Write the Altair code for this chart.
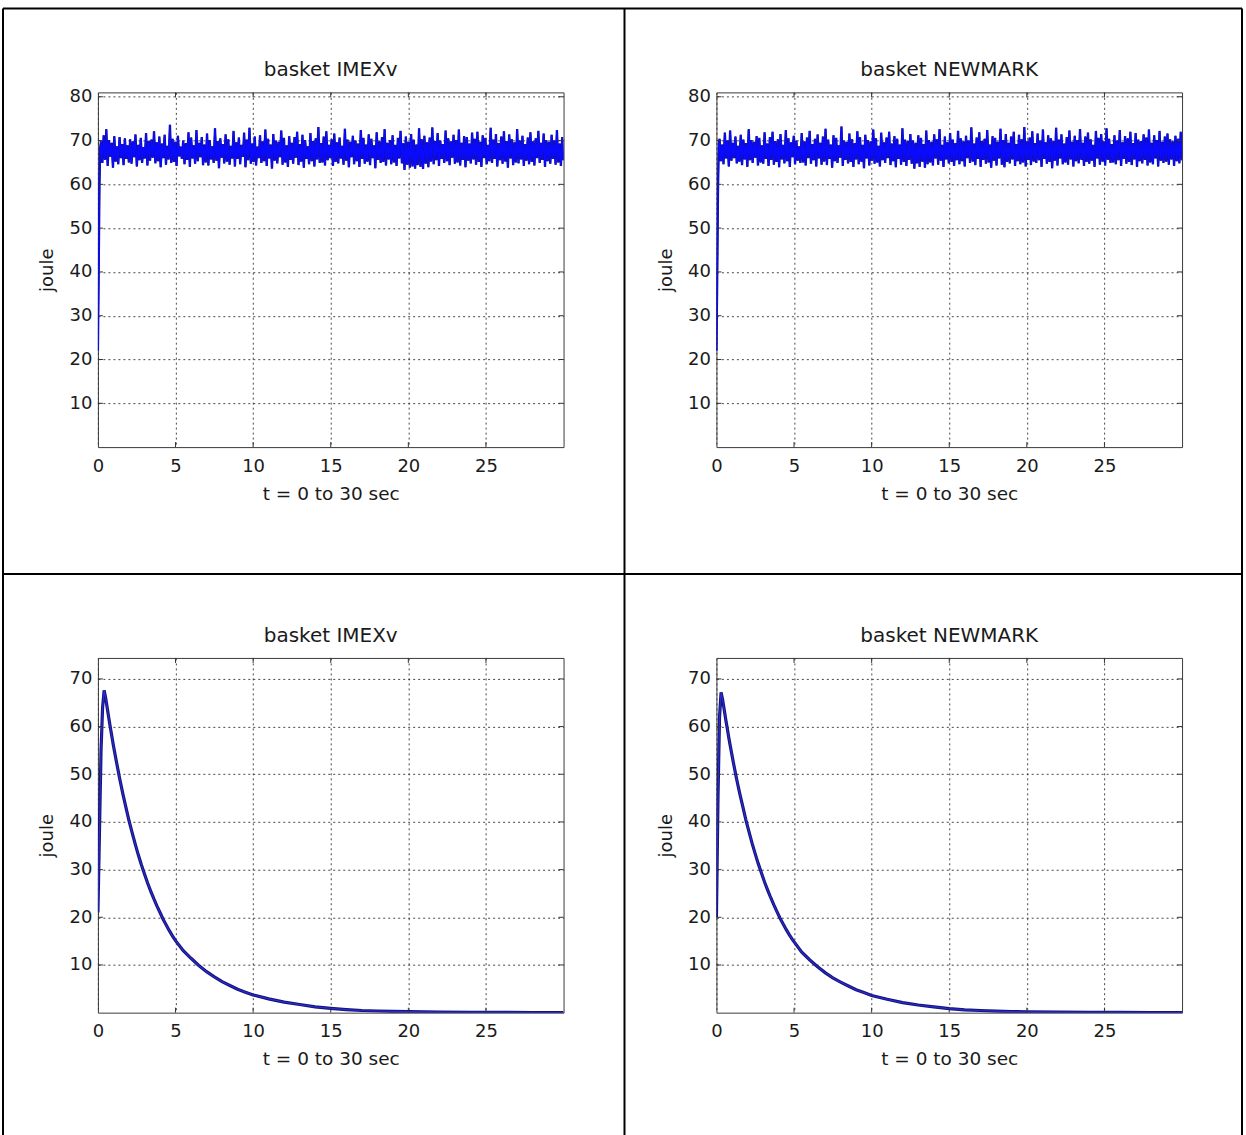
import altair as alt
import numpy as np
import pandas as pd

# ---------------- text ----------------
TITLES = ["basket IMEXv", "basket NEWMARK", "basket IMEXv", "basket NEWMARK"]
X_LABEL = "t = 0 to 30 sec"
Y_LABEL = "joule"
X_TICKS = [0, 5, 10, 15, 20, 25]
Y_TICKS_TOP = [10, 20, 30, 40, 50, 60, 70, 80]
Y_TICKS_BOTTOM = [10, 20, 30, 40, 50, 60, 70]

# ---------------- top-left (IMEXv) ----------------
TL_START_T = [0.0, 0.05, 0.1, 0.15]
TL_START_V = [22.0, 40.0, 60.0, 68.5]
TL_NOISE = [
    69.8, 64.9, 71.2, 65.6, 72.6, 64.2, 70.1, 66.3, 69.5, 63.8, 71.0, 65.2, 68.7, 64.6, 70.8, 66.0, 69.2, 64.4, 70.5, 65.8,
    68.9, 65.0, 70.3, 64.7, 69.8, 66.2, 71.4, 64.1, 69.0, 65.5, 70.6, 64.9, 68.5, 65.9, 71.7, 64.3, 69.9, 65.4, 70.2, 66.1,
    72.1, 64.8, 69.6, 65.3, 70.9, 63.9, 69.3, 66.0, 71.3, 64.5, 68.8, 65.7, 73.6, 64.9, 70.4, 65.1, 69.7, 64.2, 71.1, 66.4,
    68.6, 65.8, 70.0, 64.6, 69.4, 65.6, 71.9, 64.0, 70.7, 65.9, 68.9, 64.7, 72.4, 65.3, 69.5, 66.2, 70.8, 64.4, 69.1, 65.0,
    71.6, 64.3, 70.1, 65.7, 68.7, 64.9, 72.8, 65.4, 69.9, 63.7, 70.5, 66.1, 69.2, 64.8, 71.4, 65.2, 70.3, 64.5, 68.8, 65.9,
    72.2, 64.1, 69.6, 65.8, 70.7, 64.6, 69.0, 66.3, 71.8, 63.9, 70.2, 65.5, 72.9, 64.7, 69.3, 65.1, 70.9, 64.3, 68.6, 66.0,
    71.2, 64.9, 69.8, 65.3, 72.5, 64.2, 70.4, 65.9, 69.1, 63.6, 71.5, 65.4, 70.0, 64.8, 69.7, 66.2, 72.3, 64.5, 70.6, 65.0,
    68.9, 64.0, 71.0, 65.6, 69.5, 64.7, 70.8, 66.1, 72.0, 64.4, 69.2, 65.2, 71.3, 63.8, 70.1, 65.8, 68.7, 64.6, 71.7, 65.3,
    69.9, 64.1, 70.5, 65.7, 73.1, 64.9, 69.4, 65.0, 70.9, 64.3, 72.1, 65.5, 69.0, 66.0, 70.3, 64.2, 71.6, 65.1, 69.6, 64.8,
    70.7, 65.9, 68.8, 64.5, 72.7, 65.4, 70.2, 63.9, 69.7, 66.2, 71.1, 64.6, 70.0, 65.3, 69.3, 64.0, 72.4, 65.8, 70.6, 64.7,
    69.1, 65.2, 71.4, 64.4, 70.4, 66.0, 68.9, 63.7, 71.9, 65.6, 69.8, 64.9, 70.8, 65.1, 72.6, 64.3, 69.5, 65.7, 70.1, 64.6,
    71.2, 65.0, 69.0, 64.2, 70.6, 65.9, 72.2, 64.8, 69.4, 63.3, 70.9, 64.5, 69.7, 63.8, 71.5, 64.1, 70.2, 63.6, 69.1, 64.4,
    72.8, 64.0, 70.3, 63.5, 71.1, 64.7, 69.6, 63.9, 70.7, 65.2, 73.0, 64.6, 69.9, 65.5, 71.7, 64.2, 70.0, 65.8, 69.2, 64.9,
    72.3, 65.3, 70.5, 64.4, 69.8, 66.1, 71.3, 64.7, 70.1, 65.0, 72.5, 64.3, 69.5, 65.6, 71.0, 63.9, 70.8, 65.4, 69.3, 64.8,
    71.8, 65.7, 70.4, 64.5, 72.0, 65.1, 69.7, 64.0, 71.2, 66.0, 70.6, 64.6, 69.0, 65.3, 72.9, 64.9, 70.2, 65.8, 71.5, 64.1,
    69.4, 65.5, 70.9, 64.7, 72.1, 65.2, 69.9, 63.8, 71.4, 65.9, 70.3, 64.4, 69.6, 65.0, 72.6, 64.8, 70.0, 65.7, 71.1, 64.2,
    69.2, 65.4, 70.7, 64.6, 71.9, 65.1, 69.8, 64.3, 70.5, 66.0, 72.2, 64.9, 69.5, 65.6, 71.6, 64.0, 70.1, 65.3, 69.7, 64.7,
    71.3, 65.8, 70.0, 64.5, 72.4, 65.0, 69.3, 64.2, 70.8, 65.5,
]

# ---------------- top-right (NEWMARK) ----------------
TR_START_T = [0.0, 0.05, 0.1, 0.15]
TR_START_V = [22.0, 38.0, 58.0, 69.0]
TR_NOISE = [
    70.4, 65.3, 69.1, 64.6, 71.8, 65.9, 70.0, 64.1, 72.3, 65.4, 69.5, 66.0, 70.9, 64.8, 68.8, 65.2, 71.3, 64.4, 70.2, 65.7,
    69.4, 64.0, 72.6, 65.5, 70.1, 64.9, 69.7, 66.1, 71.0, 64.3, 70.6, 65.0, 68.9, 64.7, 71.9, 65.8, 69.3, 64.2, 70.8, 65.6,
    72.0, 64.5, 69.9, 65.1, 70.3, 63.9, 71.5, 65.7, 69.0, 64.8, 72.4, 65.3, 70.5, 64.0, 69.6, 66.2, 71.1, 64.6, 70.0, 65.4,
    68.7, 64.9, 71.7, 65.0, 69.8, 64.3, 70.7, 66.0, 72.2, 64.7, 69.2, 65.5, 70.4, 64.1, 71.4, 65.9, 69.5, 64.5, 70.9, 65.2,
    72.7, 64.4, 70.2, 65.8, 69.1, 63.8, 71.2, 65.3, 70.6, 64.9, 68.9, 66.1, 73.2, 64.2, 70.0, 65.6, 69.7, 64.8, 71.6, 65.1,
    70.3, 64.0, 69.4, 65.7, 72.1, 64.6, 70.8, 65.2, 69.0, 63.7, 71.3, 65.9, 70.1, 64.3, 69.8, 65.4, 72.5, 64.7, 70.5, 65.0,
    68.8, 64.1, 71.8, 65.5, 69.6, 64.9, 70.7, 66.0, 72.0, 64.4, 69.3, 65.3, 71.0, 63.9, 70.4, 65.8, 69.1, 64.5, 72.8, 65.1,
    70.2, 64.2, 69.9, 65.6, 71.5, 64.7, 70.0, 63.6, 69.5, 64.8, 71.2, 64.0, 70.6, 65.2, 69.2, 63.8, 72.3, 64.6, 70.1, 65.0,
    69.7, 64.3, 71.4, 65.9, 70.3, 64.5, 72.6, 65.4, 69.0, 64.0, 70.9, 65.7, 69.6, 64.8, 71.7, 65.1, 70.2, 64.2, 69.4, 65.5,
    72.2, 64.6, 70.5, 65.3, 69.8, 64.1, 71.1, 66.0, 70.0, 64.9, 73.0, 65.2, 69.3, 64.4, 70.7, 65.8, 71.9, 64.0, 69.9, 65.6,
    70.4, 64.7, 72.4, 65.0, 69.1, 63.8, 71.0, 65.4, 70.6, 64.3, 69.7, 65.9, 72.7, 64.5, 70.1, 63.9, 71.5, 65.1, 69.5, 64.8,
    70.9, 65.7, 72.0, 64.2, 69.2, 65.3, 71.3, 64.6, 70.3, 65.0, 73.1, 64.1, 69.8, 65.6, 70.7, 64.4, 72.1, 65.2, 69.4, 64.9,
    71.6, 65.5, 70.0, 64.0, 72.5, 65.8, 69.6, 64.7, 71.2, 65.1, 70.5, 63.7, 69.9, 65.4, 72.9, 64.3, 70.2, 65.9, 71.4, 64.6,
    69.3, 65.0, 70.8, 64.5, 72.3, 65.7, 69.7, 64.1, 71.1, 65.3, 70.1, 64.8, 72.6, 65.6, 69.5, 64.2, 70.9, 65.1, 71.8, 64.7,
    70.3, 65.4, 69.0, 64.0, 72.2, 65.9, 70.6, 64.5, 71.5, 65.2, 69.8, 64.3, 72.8, 65.6, 70.4, 64.9, 69.2, 65.0, 71.2, 64.6,
    70.0, 65.5, 72.4, 64.2, 69.6, 65.8, 71.0, 64.7, 70.5, 65.1, 72.0, 64.4, 69.4, 65.7, 71.7, 64.0, 70.2, 65.3, 69.9, 64.8,
    71.4, 65.6, 70.7, 64.3, 72.5, 65.0, 69.5, 64.6, 71.2, 65.9, 70.1, 64.1, 72.2, 65.4, 69.7, 64.9, 70.9, 65.2, 71.6, 64.5,
    70.3, 65.7, 69.8, 64.2, 71.1, 65.3, 70.4, 64.8, 72.0, 65.5,
]
NOISE_T0, NOISE_T1 = 0.2, 30.0

# ---------------- bottom-left (IMEXv) ----------------
BL_T = [0.0, 0.1, 0.2, 0.3, 0.4,
        0.5, 0.6, 0.7, 0.8, 0.9, 1.0, 1.2, 1.4, 1.6, 1.8, 2.0,
        2.2, 2.4, 2.6, 2.8, 3.0, 3.2, 3.4, 3.6, 3.8, 4.0, 4.2, 4.4, 4.6, 4.8, 5.0,
        5.5, 6.0, 6.5, 7.0, 7.5, 8.0, 8.5, 9.0, 9.5, 10.0, 11.0, 12.0, 13.0, 14.0, 15.0,
        16.0, 17.0, 18.0, 19.0, 20.0, 22.0, 24.0, 26.0, 28.0, 30.0]
BL_V = [21.0, 38.0, 55.0, 64.0, 67.6,
        66.0, 63.9, 61.8, 59.8, 57.9, 56.0, 52.5, 49.1, 46.0, 43.1, 40.3,
        37.8, 35.4, 33.1, 31.0, 29.1, 27.2, 25.5, 23.9, 22.4, 21.0, 19.6, 18.4, 17.2, 16.1, 15.1,
        13.0, 11.4, 9.9, 8.6, 7.5, 6.5, 5.7, 4.9, 4.3, 3.7, 2.9, 2.2, 1.7, 1.2, 0.9,
        0.65, 0.45, 0.35, 0.25, 0.2, 0.12, 0.08, 0.05, 0.03, 0.02]

# ---------------- bottom-right (NEWMARK) ----------------
BR_T = [0.0, 0.1, 0.2, 0.3,
        0.4, 0.5, 0.6, 0.7, 0.8, 0.9, 1.1, 1.3, 1.5, 1.7, 1.9,
        2.1, 2.3, 2.5, 2.7, 2.9, 3.1, 3.3, 3.5, 3.7, 3.9, 4.1, 4.3, 4.5, 4.7, 4.9,
        5.5, 6.0, 6.5, 7.0, 7.5, 8.0, 8.5, 9.0, 9.5, 10.0, 11.0, 12.0, 13.0, 14.0, 15.0,
        16.0, 17.0, 18.0, 19.0, 20.0, 22.0, 24.0, 26.0, 28.0, 30.0]
BR_V = [20.0, 45.0, 62.0, 67.2,
        65.6, 63.6, 61.5, 59.6, 57.6, 55.8, 52.3, 49.0, 46.0, 43.2, 40.4,
        37.9, 35.5, 33.3, 31.2, 29.3, 27.4, 25.7, 24.1, 22.6, 21.2, 19.8, 18.6, 17.4, 16.3, 15.3,
        12.7, 11.1, 9.7, 8.4, 7.3, 6.4, 5.6, 4.8, 4.2, 3.6, 2.8, 2.1, 1.6, 1.2, 0.85,
        0.6, 0.45, 0.3, 0.22, 0.17, 0.1, 0.07, 0.04, 0.03, 0.02]

# ---------------- style ----------------
W, H = 466, 355
FONT = "DejaVu Sans"
TXT = "#1a1a1a"
BLUE = "#0a0aff"
NAVY = "#141478"


def top_df(start_t, start_v, noise):
    t = list(start_t) + list(np.linspace(NOISE_T0, NOISE_T1, len(noise)))
    v = list(start_v) + list(noise)
    return pd.DataFrame({"t": t, "v": v, "i": range(len(t))})


def enc_x():
    return alt.X("t:Q", scale=alt.Scale(domain=[0, 30], nice=False, zero=False),
                 axis=alt.Axis(values=X_TICKS, title=X_LABEL, grid=True, gridDash=[2, 3],
                               gridColor="#333", gridOpacity=0.9, gridWidth=1,
                               ticks=False, domain=False, labelPadding=10, labelFont=FONT,
                               labelFontSize=18, labelColor=TXT, labelOverlap=False,
                               labelFlush=False, titleFont=FONT, titleFontSize=18.5,
                               titleFontWeight="normal", titleColor=TXT, titleY=46,
                               titleBaseline="middle", titleX=W / 2, titleAlign="center"))


def enc_y(domain, ticks):
    return alt.Y("v:Q", scale=alt.Scale(domain=domain, nice=False, zero=False),
                 axis=alt.Axis(values=ticks, title=Y_LABEL, grid=True, gridDash=[2, 3],
                               gridColor="#333", gridOpacity=0.9, gridWidth=1,
                               ticks=False, domain=False, labelPadding=6, labelFont=FONT,
                               labelFontSize=18, labelColor=TXT, labelOverlap=False,
                               labelFlush=False, titleFont=FONT, titleFontSize=18,
                               titleFontWeight="normal", titleColor=TXT, titleX=-50,
                               titleY=H / 2, titleAlign="center", titleBaseline="middle",
                               titleAngle=270))


def panel(df, title, domain, yticks, kind, borders=False):
    X = enc_x()
    Y = enc_y(domain, yticks)
    base = alt.Chart(df)
    if kind == "top":
        layers = [
            base.mark_line(color=NAVY, strokeWidth=2.3, clip=True).encode(x=X, y=Y, order="i:Q"),
            base.mark_line(color=BLUE, strokeWidth=1.5, clip=True).encode(x=X, y=Y, order="i:Q"),
        ]
    else:
        layers = [
            base.mark_line(color=NAVY, strokeWidth=3.2, clip=True).encode(x=X, y=Y, order="i:Q"),
            base.mark_line(color="#2a2ad0", strokeWidth=1.2, clip=True).encode(x=X, y=Y, order="i:Q"),
        ]
    xt = pd.DataFrame({"t": X_TICKS[1:]})
    yt = pd.DataFrame({"v": yticks})
    tk = dict(color="#333", strokeWidth=1)
    layers += [
        alt.Chart(xt).mark_rule(**tk).encode(x=X, y=alt.value(H), y2=alt.value(H - 5)),
        alt.Chart(xt).mark_rule(**tk).encode(x=X, y=alt.value(0), y2=alt.value(5)),
        alt.Chart(yt).mark_rule(**tk).encode(y=Y, x=alt.value(0), x2=alt.value(5)),
        alt.Chart(yt).mark_rule(**tk).encode(y=Y, x=alt.value(W), x2=alt.value(W - 5)),
        alt.Chart(pd.DataFrame({"s": [title]})).mark_text(
            font=FONT, fontSize=20, color=TXT, align="center", baseline="middle"
        ).encode(text="s:N", x=alt.value(W / 2), y=alt.value(-22)),
    ]
    if borders:
        one = pd.DataFrame({"a": [0]})
        bk = dict(color="black", strokeWidth=2)
        for xv in (-95, 527, 1145):
            layers.append(alt.Chart(one).mark_rule(**bk).encode(
                x=alt.value(xv), y=alt.value(-84), y2=alt.value(1045)))
        for yv in (-84, 482):
            layers.append(alt.Chart(one).mark_rule(**bk).encode(
                y=alt.value(yv), x=alt.value(-95), x2=alt.value(1145)))
    return alt.layer(*layers).properties(width=W, height=H)


tl = panel(top_df(TL_START_T, TL_START_V, TL_NOISE), TITLES[0], [0, 81], Y_TICKS_TOP, "top", borders=True)
tr = panel(top_df(TR_START_T, TR_START_V, TR_NOISE), TITLES[1], [0, 81], Y_TICKS_TOP, "top")
bl = panel(pd.DataFrame({"t": BL_T, "v": BL_V, "i": range(len(BL_T))}), TITLES[2], [0, 74.4], Y_TICKS_BOTTOM, "bottom")
br = panel(pd.DataFrame({"t": BR_T, "v": BR_V, "i": range(len(BR_T))}), TITLES[3], [0, 74.4], Y_TICKS_BOTTOM, "bottom")

chart = alt.concat(tl, tr, bl, br, columns=2, spacing={"row": 211, "column": 153},
                   bounds="flush").properties(
    padding={"left": 1, "top": 6, "right": 2, "bottom": 0},
    background="white",
).configure_view(stroke="#3a3a3a", strokeWidth=1, fill="white")

chart.save("out.html", embed_options={"renderer": "svg", "actions": False})
